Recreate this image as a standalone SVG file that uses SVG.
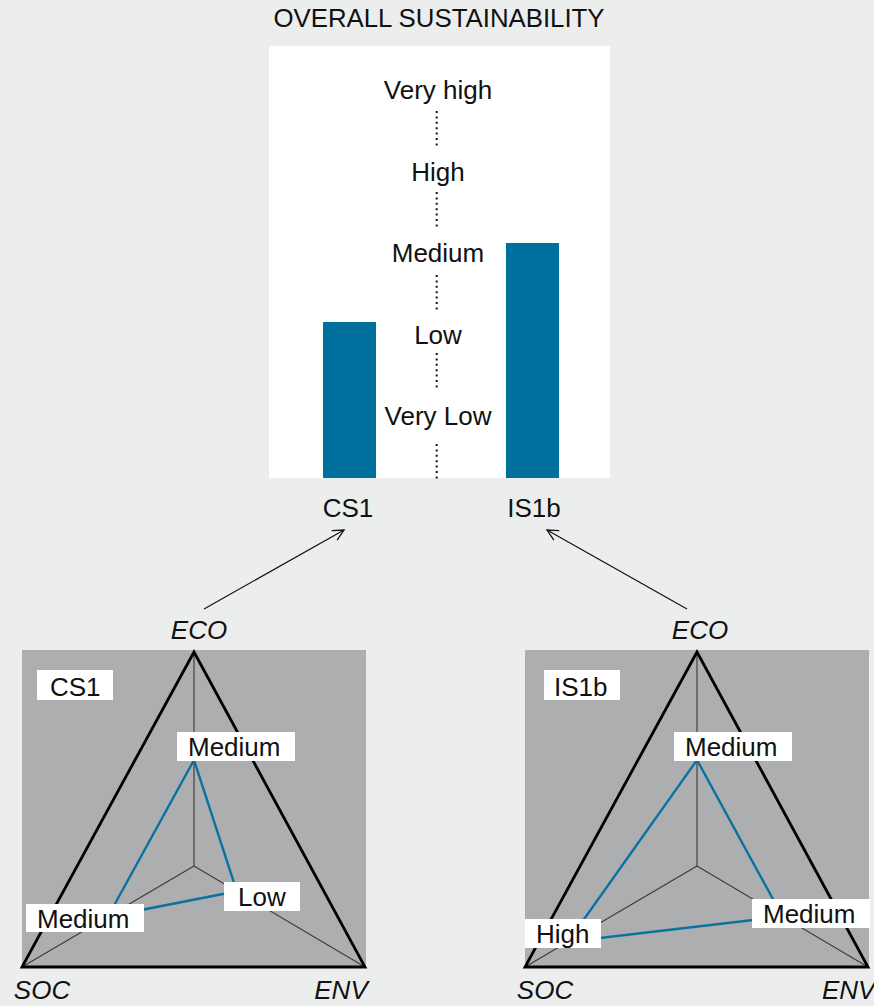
<svg xmlns="http://www.w3.org/2000/svg" width="874" height="1006" viewBox="0 0 874 1006">
  <style>
    text { font-family: "Liberation Sans", Arial, sans-serif; font-size: 26px; fill: #111; }
    .axis-name { font-style: italic; }
    .mid { text-anchor: middle; }
    .dots { stroke: #111; stroke-width: 2; stroke-dasharray: 2 3.4; fill: none; }
    .bar { fill: #00709f; }
    .plate { fill: #adaeb0; }
    .frame { fill: none; stroke: #000; stroke-width: 2.8; stroke-linejoin: miter; }
    .spoke { stroke: #3a3a3a; stroke-width: 1.1; }
    .profile { fill: none; stroke: #0a72a2; stroke-width: 2.4; }
    .tag { fill: #fff; }
    .link { stroke: #111; stroke-width: 1.2; fill: none; }
  </style>
  <defs>
    <marker id="open-arrow" markerUnits="userSpaceOnUse" markerWidth="16" markerHeight="16" refX="12" refY="6" orient="auto">
      <path d="M1,0.5 L12,6 L1,11.5" fill="none" stroke="#111" stroke-width="1.3"/>
    </marker>
  </defs>

  <!-- page background -->
  <rect width="874" height="1006" fill="#eceeed"/>

  <!-- overall sustainability chart -->
  <g id="overall-chart">
    <text class="mid" x="439" y="27" style="font-size:25.8px">OVERALL SUSTAINABILITY</text>
    <rect x="269" y="46" width="341" height="432" fill="#fff"/>
    <rect class="bar" x="323" y="322" width="53" height="156"/>
    <rect class="bar" x="506" y="243" width="53" height="235"/>
    <text class="mid" x="438" y="99">Very high</text>
    <text class="mid" x="438" y="181">High</text>
    <text class="mid" x="438" y="262">Medium</text>
    <text class="mid" x="438" y="344">Low</text>
    <text class="mid" x="438" y="425">Very Low</text>
    <line class="dots" x1="436.7" y1="111" x2="436.7" y2="146"/>
    <line class="dots" x1="436.7" y1="192" x2="436.7" y2="227"/>
    <line class="dots" x1="436.7" y1="275" x2="436.7" y2="310"/>
    <line class="dots" x1="436.7" y1="353" x2="436.7" y2="388"/>
    <line class="dots" x1="436.7" y1="444" x2="436.7" y2="479"/>
    <text class="mid" x="348" y="517">CS1</text>
    <text class="mid" x="534" y="517">IS1b</text>
  </g>

  <!-- connectors from the radar charts to the bars -->
  <g id="connectors">
    <line class="link" x1="204" y1="609" x2="344" y2="530" marker-end="url(#open-arrow)"/>
    <line class="link" x1="687" y1="609" x2="547" y2="530" marker-end="url(#open-arrow)"/>
  </g>

  <!-- CS1 radar -->
  <g id="radar-cs1">
    <rect class="plate" x="22" y="650" width="344" height="318"/>
    <line class="spoke" x1="194" y1="866" x2="194" y2="652"/>
    <line class="spoke" x1="194" y1="866" x2="22" y2="967"/>
    <line class="spoke" x1="194" y1="866" x2="365" y2="967"/>
    <polygon class="frame" points="194,652 365,967 22,967"/>
    <polygon class="profile" points="194,760 236.8,891.3 108,916.5"/>
    <rect class="tag" x="37" y="670" width="76" height="30"/>
    <text x="50" y="696">CS1</text>
    <rect class="tag" x="177" y="732" width="118" height="29"/>
    <text x="188" y="756">Medium</text>
    <rect class="tag" x="224" y="882" width="76" height="29"/>
    <text x="238" y="906">Low</text>
    <rect class="tag" x="26" y="904" width="118" height="28"/>
    <text x="37" y="928">Medium</text>
    <text class="axis-name mid" x="199" y="639">ECO</text>
    <text class="axis-name mid" x="42" y="999">SOC</text>
    <text class="axis-name mid" x="341" y="999">ENV</text>
  </g>

  <!-- IS1b radar -->
  <g id="radar-is1b">
    <rect class="plate" x="525" y="650" width="344" height="318"/>
    <line class="spoke" x1="697" y1="866" x2="697" y2="652"/>
    <line class="spoke" x1="697" y1="866" x2="525" y2="967"/>
    <line class="spoke" x1="697" y1="866" x2="868" y2="967"/>
    <polygon class="frame" points="697,652 868,967 525,967"/>
    <polygon class="profile" points="697,760 782.5,916.5 568,941.8"/>
    <rect class="tag" x="544" y="670" width="76" height="30"/>
    <text x="554" y="696">IS1b</text>
    <rect class="tag" x="674" y="732" width="118" height="29"/>
    <text x="685" y="756">Medium</text>
    <rect class="tag" x="752" y="899" width="118" height="29"/>
    <text x="763" y="923">Medium</text>
    <rect class="tag" x="525" y="919" width="76" height="29"/>
    <text x="536" y="943">High</text>
    <text class="axis-name mid" x="700" y="639">ECO</text>
    <text class="axis-name mid" x="545" y="999">SOC</text>
    <text class="axis-name" x="822" y="999">ENV</text>
  </g>
</svg>
